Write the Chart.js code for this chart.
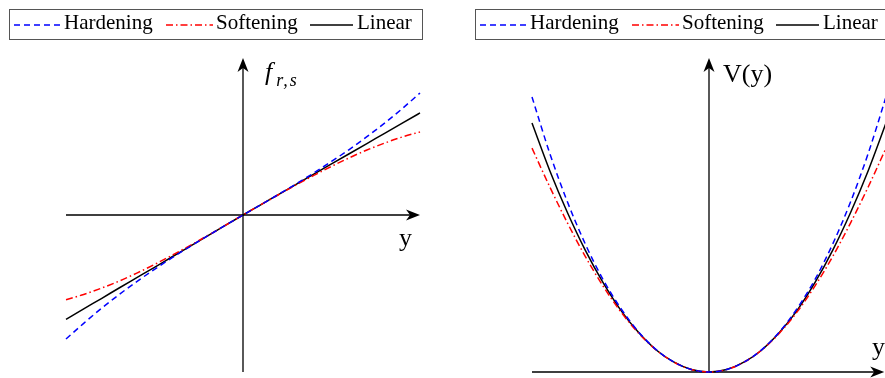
<!DOCTYPE html>
<html>
<head>
<meta charset="utf-8">
<script src="https://cdn.jsdelivr.net/npm/chart.js@4.4.1/dist/chart.umd.min.js"></script>
<style>
  html, body { margin: 0; padding: 0; background: #fff; overflow: hidden; }
  body { width: 885px; height: 378px; position: relative; font-family: "Liberation Serif", "Times New Roman", serif; color: #000; }
  canvas { position: absolute; left: 0; top: 0; }
  .legend { position: absolute; top: 9px; height: 29px; border: 1px solid #555; box-sizing: content-box; }
  .legend span { position: absolute; top: 2px; font-size: 21px; line-height: 21px; white-space: nowrap; }
  .legend svg { position: absolute; top: 0; }
  .lbl { position: absolute; font-size: 26px; line-height: 26px; white-space: nowrap; }
  .it { font-style: italic; }
  sub { font-size: 18px; vertical-align: -6px; line-height: 0; margin-left: 4px; letter-spacing: 2px; }
</style>
</head>
<body>
<canvas id="force" width="885" height="378"></canvas>
<canvas id="potential" width="900" height="378"></canvas>

<div class="legend" style="left:9px;width:412px;">
  <svg width="60" height="29" style="left:0"><line x1="4" y1="15" x2="51" y2="15" stroke="#0000ff" stroke-width="1.5" stroke-dasharray="6 4"/></svg>
  <span style="left:54px">Hardening</span>
  <svg width="60" height="29" style="left:152px"><line x1="4" y1="15" x2="51" y2="15" stroke="#ff0000" stroke-width="1.5" stroke-dasharray="7 3 1.5 3"/></svg>
  <span style="left:206px">Softening</span>
  <svg width="60" height="29" style="left:296px"><line x1="4" y1="15" x2="47" y2="15" stroke="#000" stroke-width="1.5"/></svg>
  <span style="left:347px">Linear</span>
</div>
<div class="legend" style="left:475px;width:420px;">
  <svg width="60" height="29" style="left:0"><line x1="4" y1="15" x2="51" y2="15" stroke="#0000ff" stroke-width="1.5" stroke-dasharray="6 4"/></svg>
  <span style="left:54px">Hardening</span>
  <svg width="60" height="29" style="left:152px"><line x1="4" y1="15" x2="51" y2="15" stroke="#ff0000" stroke-width="1.5" stroke-dasharray="7 3 1.5 3"/></svg>
  <span style="left:206px">Softening</span>
  <svg width="60" height="29" style="left:296px"><line x1="4" y1="15" x2="47" y2="15" stroke="#000" stroke-width="1.5"/></svg>
  <span style="left:347px">Linear</span>
</div>

<div class="lbl it" style="left:265px;top:59px;">f<sub>r,s</sub></div>
<div class="lbl" style="left:399px;top:225px;">y</div>
<div class="lbl" style="left:723px;top:61px;">V(y)</div>
<div class="lbl" style="left:872px;top:334px;">y</div>

<script>
// displacement samples shared by both panels
const displacement = [-1, -0.9, -0.8, -0.7, -0.6, -0.5, -0.4, -0.3, -0.2, -0.1, 0,
                       0.1, 0.2, 0.3, 0.4, 0.5, 0.6, 0.7, 0.8, 0.9, 1];

// restoring force f_{r,s}(y)
const forceHardening = [-0.79, -0.69, -0.595, -0.507, -0.424, -0.346, -0.272, -0.201, -0.133, -0.066, 0,
                         0.065, 0.131, 0.198, 0.268, 0.341, 0.417, 0.499, 0.585, 0.678, 0.777];
const forceSoftening = [-0.54, -0.506, -0.466, -0.421, -0.37, -0.315, -0.256, -0.195, -0.131, -0.066, 0,
                         0.065, 0.129, 0.192, 0.252, 0.310, 0.364, 0.414, 0.458, 0.497, 0.529];
const forceLinear = [-0.665, -0.598, -0.532, -0.465, -0.399, -0.333, -0.266, -0.2, -0.133, -0.066, 0,
                      0.065, 0.13, 0.195, 0.26, 0.325, 0.39, 0.455, 0.52, 0.585, 0.65];

// potential V(y)
const potentialHardening = [0.876, 0.697, 0.542, 0.409, 0.296, 0.204, 0.129, 0.072, 0.032, 0.008, 0,
                             0.008, 0.032, 0.072, 0.129, 0.204, 0.296, 0.409, 0.542, 0.697, 0.876];
const potentialSoftening = [0.713, 0.590, 0.475, 0.369, 0.275, 0.193, 0.125, 0.071, 0.032, 0.008, 0,
                             0.008, 0.032, 0.071, 0.125, 0.193, 0.275, 0.369, 0.475, 0.590, 0.713];
const potentialLinear = [0.793, 0.642, 0.508, 0.389, 0.286, 0.198, 0.127, 0.071, 0.032, 0.008, 0,
                          0.008, 0.032, 0.071, 0.127, 0.198, 0.286, 0.389, 0.508, 0.642, 0.793];

const BLUE = '#0000ff', RED = '#ff0000', BLACK = '#000000';

function points(ys) {
  return displacement.map((x, i) => ({ x: x, y: ys[i] }));
}

function series(label, ys, color, dash) {
  return {
    label: label,
    data: points(ys),
    borderColor: color,
    borderWidth: 1.5,
    borderDash: dash,
    pointRadius: 0,
    showLine: true,
    fill: false,
    clip: false,
    cubicInterpolationMode: 'monotone'
  };
}

// stealth-style arrowhead pointing along (dx, dy)
function arrowHead(ctx, x, y, dx, dy) {
  const L = 14, W = 5.5, inset = 10;
  const px = -dy, py = dx;
  ctx.beginPath();
  ctx.moveTo(x, y);
  ctx.lineTo(x - dx * L + px * W, y - dy * L + py * W);
  ctx.lineTo(x - dx * inset, y - dy * inset);
  ctx.lineTo(x - dx * L - px * W, y - dy * L - py * W);
  ctx.closePath();
  ctx.fill();
}

// axes through the origin, drawn with arrows at the positive ends
const arrowAxes = {
  id: 'arrowAxes',
  beforeDatasetsDraw(chart, args, opts) {
    const { ctx, scales } = chart;
    const xs = scales.x, ys = scales.y;
    const y0 = ys.getPixelForValue(opts.xAxisAt);
    const x0 = xs.getPixelForValue(0);
    const left = xs.getPixelForValue(xs.min), right = xs.getPixelForValue(opts.xEnd);
    const bottom = ys.getPixelForValue(ys.min), top = ys.getPixelForValue(ys.max);
    ctx.save();
    ctx.strokeStyle = '#000';
    ctx.fillStyle = '#000';
    ctx.lineWidth = 1.3;
    ctx.beginPath();
    ctx.moveTo(left, y0);
    ctx.lineTo(right - 8, y0);
    ctx.moveTo(x0, bottom);
    ctx.lineTo(x0, top + 8);
    ctx.stroke();
    arrowHead(ctx, right, y0, 1, 0);
    arrowHead(ctx, x0, top, 0, -1);
    ctx.restore();
  }
};

function makeChart(id, sets, yMin, yMax, padding, xEnd, xAxisAt) {
  return new Chart(document.getElementById(id), {
    type: 'scatter',
    data: { datasets: sets },
    options: {
      responsive: false,
      animation: false,
      devicePixelRatio: 1,
      layout: { padding: padding },
      plugins: {
        legend: { display: false },
        tooltip: { enabled: false },
        arrowAxes: { xEnd: xEnd, xAxisAt: xAxisAt }
      },
      scales: {
        x: { type: 'linear', min: -1, max: 1, display: false },
        y: { type: 'linear', min: yMin, max: yMax, display: false }
      }
    },
    plugins: [arrowAxes]
  });
}

makeChart('force', [
  series('Hardening', forceHardening, BLUE, [6, 4]),
  series('Softening', forceSoftening, RED, [7, 3, 1.5, 3]),
  series('Linear', forceLinear, BLACK, [])
], -1, 1, { left: 66, right: 465, top: 58, bottom: 6 }, 1, 0);

makeChart('potential', [
  series('Hardening', potentialHardening, BLUE, [6, 4]),
  series('Softening', potentialSoftening, RED, [7, 3, 1.5, 3]),
  series('Linear', potentialLinear, BLACK, [])
], 0, 1, { left: 532, right: 14, top: 58, bottom: 6 }, 0.99, 0);
</script>
</body>
</html>
